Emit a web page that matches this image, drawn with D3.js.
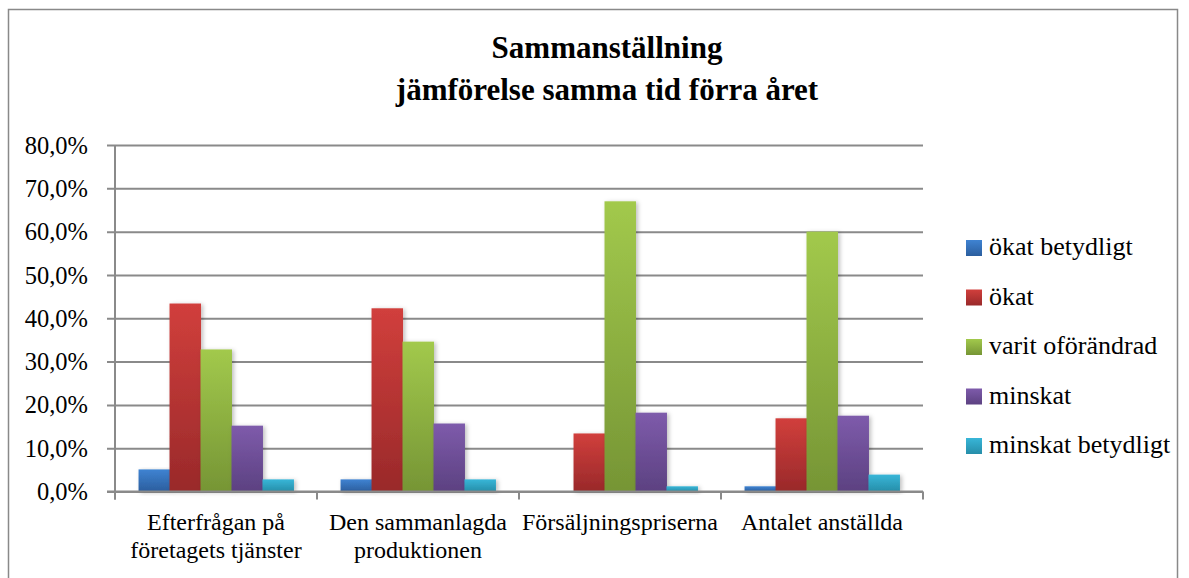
<!DOCTYPE html>
<html lang="sv">
<head>
  <meta charset="UTF-8">
  <title>Sammanställning</title>
  <script src="https://cdn.jsdelivr.net/npm/d3@7"></script>
  <style>
    body { margin: 0; background: #fff; }
  </style>
</head>
<body>
  <script>
    // data
    const categories = [
      ["Efterfrågan på", "företagets tjänster"],
      ["Den sammanlagda", "produktionen"],
      ["Försäljningspriserna"],
      ["Antalet anställda"]
    ];
    const seriesNames = ["ökat betydligt", "ökat", "varit oförändrad", "minskat", "minskat betydligt"];
    const okatBetydligt = [5.1, 2.8, 0, 1.2];
    const okat = [43.4, 42.3, 13.4, 16.9];
    const oforandrad = [32.8, 34.6, 67.0, 60.0];
    const minskat = [15.2, 15.7, 18.2, 17.5];
    const minskatBetydligt = [2.8, 2.8, 1.2, 3.9];
    const yTicks = [0, 10, 20, 30, 40, 50, 60, 70, 80];

    const seriesValues = [okatBetydligt, okat, oforandrad, minskat, minskatBetydligt];
    const colors = [
      ["#3f83d2", "#2b5e9e"],
      ["#d13f3c", "#99292a"],
      ["#a2c94c", "#769535"],
      ["#7e5bab", "#5c4181"],
      ["#38b6d8", "#268ea9"]
    ];

    const FONT = "'Liberation Serif', 'DejaVu Serif', serif";
    const w = 1189, h = 578;
    const plotLeft = 115, plotRight = 923, plotTop = 145, plotBottom = 491.5;

    const svg = d3.select("body").append("svg")
      .attr("width", w).attr("height", h)
      .style("font-family", FONT);

    const defs = svg.append("defs");
    colors.forEach((c, i) => {
      const g = defs.append("linearGradient")
        .attr("id", "grad" + i)
        .attr("x1", 0).attr("y1", 0).attr("x2", 0).attr("y2", 1);
      g.append("stop").attr("offset", "0%").attr("stop-color", c[0]);
      g.append("stop").attr("offset", "100%").attr("stop-color", c[1]);
    });
    const shadow = defs.append("filter").attr("id", "shadow")
      .attr("x", "-20%").attr("y", "-10%").attr("width", "150%").attr("height", "130%");
    shadow.append("feDropShadow")
      .attr("dx", 2).attr("dy", 1).attr("stdDeviation", 2)
      .attr("flood-color", "#000").attr("flood-opacity", 0.25);

    // outer frame
    svg.append("rect")
      .attr("x", 8.5).attr("y", 9.5)
      .attr("width", 1169).attr("height", 600)
      .attr("fill", "none").attr("stroke", "#898989").attr("stroke-width", 1.5);

    // title
    ["Sammanställning", "jämförelse samma tid förra året"].forEach((t, i) => {
      svg.append("text")
        .attr("x", 607).attr("y", 58 + i * 42)
        .attr("text-anchor", "middle")
        .style("font-family", FONT)
        .style("font-size", "31px").style("font-weight", "bold")
        .text(t);
    });

    const x0 = d3.scaleBand()
      .domain(d3.range(categories.length))
      .range([plotLeft, plotRight]);
    const x1 = d3.scaleBand()
      .domain(d3.range(seriesNames.length))
      .range([0, x0.bandwidth()])
      .paddingOuter(0.76);
    const y = d3.scaleLinear().domain([0, 80]).range([plotBottom, plotTop]);

    // gridlines + y axis
    const yAxis = d3.axisLeft(y)
      .tickValues(yTicks)
      .tickSize(-(plotRight - plotLeft))
      .tickPadding(0)
      .tickFormat(d => d.toFixed(1).replace(".", ",") + "%");
    const gy = svg.append("g")
      .attr("transform", "translate(" + plotLeft + ",0)")
      .call(yAxis)
      .attr("font-family", null);
    gy.select(".domain").remove();
    gy.selectAll(".tick line")
      .attr("x1", -8)
      .attr("stroke", "#8a8a8a").attr("stroke-width", 2);
    gy.selectAll(".tick text")
      .attr("x", -27)
      .attr("dy", "0.33em")
      .attr("fill", "#000")
      .style("font-size", "24.5px")
      .style("font-family", FONT);

    svg.append("line")
      .attr("x1", plotLeft).attr("x2", plotLeft)
      .attr("y1", plotTop).attr("y2", plotBottom + 8)
      .attr("stroke", "#8a8a8a").attr("stroke-width", 2);

    // bars
    const groups = svg.append("g").selectAll("g")
      .data(seriesValues)
      .enter().append("g")
      .attr("fill", (d, i) => "url(#grad" + i + ")")
      .attr("filter", "url(#shadow)");
    groups.each(function(vals, si) {
      d3.select(this).selectAll("rect")
        .data(vals)
        .enter().append("rect")
        .attr("x", (d, ci) => x0(ci) + x1(si))
        .attr("width", x1.bandwidth() + 0.5)
        .attr("y", d => y(d))
        .attr("height", d => plotBottom - y(d));
    });

    // x axis
    const xAxis = svg.append("g");
    xAxis.append("line")
      .attr("x1", plotLeft - 8).attr("x2", plotRight)
      .attr("y1", plotBottom).attr("y2", plotBottom)
      .attr("stroke", "#8a8a8a").attr("stroke-width", 2);
    xAxis.selectAll("line.tk")
      .data(d3.range(categories.length + 1))
      .enter().append("line")
      .attr("class", "tk")
      .attr("x1", i => i < categories.length ? x0(i) : plotRight)
      .attr("x2", i => i < categories.length ? x0(i) : plotRight)
      .attr("y1", plotBottom).attr("y2", plotBottom + 8)
      .attr("stroke", "#8a8a8a").attr("stroke-width", 2);
    const labels = xAxis.selectAll("text.cat")
      .data(categories)
      .enter().append("text")
      .attr("class", "cat")
      .attr("text-anchor", "middle")
      .style("font-family", FONT)
      .style("font-size", "24px");
    labels.each(function(lines, ci) {
      d3.select(this).selectAll("tspan")
        .data(lines)
        .enter().append("tspan")
        .attr("x", x0(ci) + x0.bandwidth() / 2)
        .attr("y", (d, li) => 530 + li * 28)
        .text(d => d);
    });

    // legend
    const legend = svg.append("g").attr("transform", "translate(966,240)");
    const items = legend.selectAll("g")
      .data(seriesNames)
      .enter().append("g")
      .attr("transform", (d, i) => "translate(0," + i * 49.5 + ")");
    items.append("rect")
      .attr("width", 16).attr("height", 16)
      .attr("fill", (d, i) => "url(#grad" + i + ")");
    items.append("text")
      .attr("x", 23).attr("y", 15)
      .style("font-family", FONT)
      .style("font-size", "26px")
      .text(d => d);
  </script>
</body>
</html>
